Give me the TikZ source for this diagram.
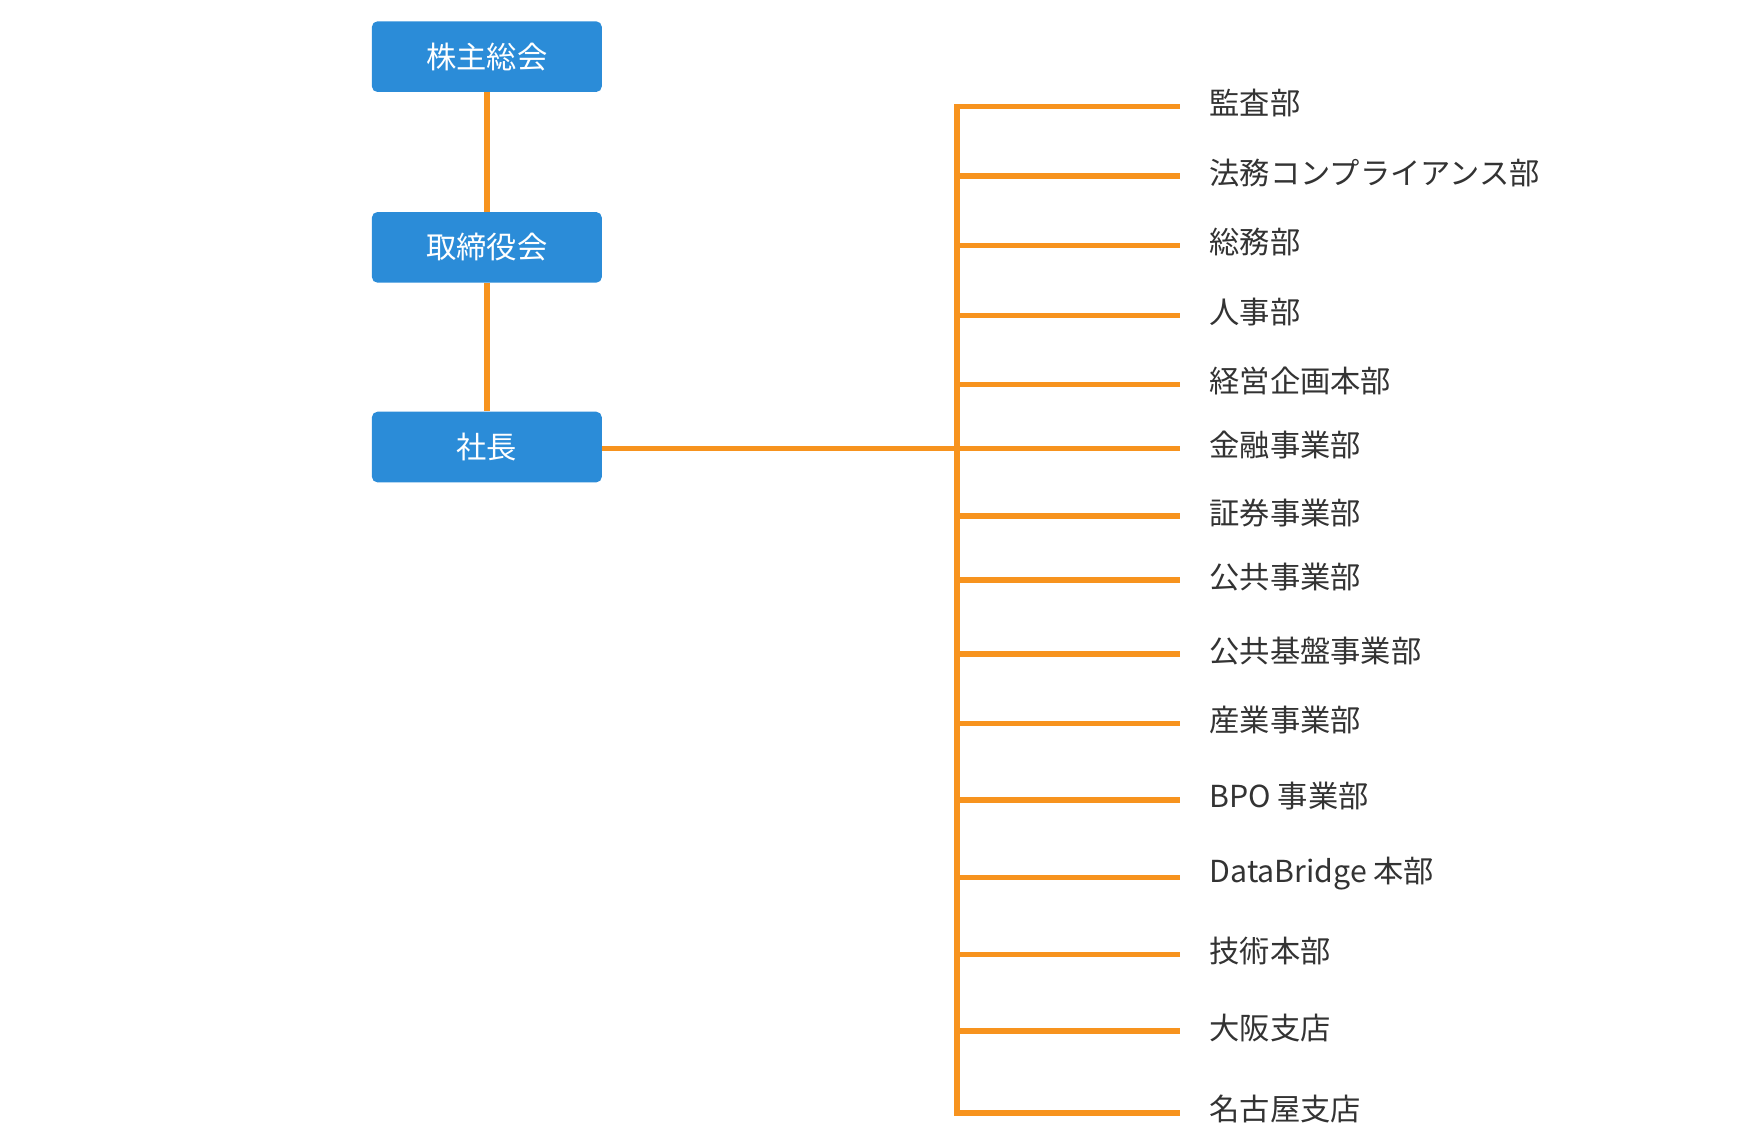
\documentclass[tikz,border=0pt]{standalone}
\usepackage{fontspec}
\setmainfont{Noto Sans CJK JP}
\definecolor{boxblue}{RGB}{43,140,216}
\definecolor{lineorange}{RGB}{247,147,30}
\definecolor{labelgray}{RGB}{51,51,51}
\tikzset{
  orgbox/.style={fill=boxblue, rounded corners=5pt, minimum width=205pt, minimum height=63pt,
    inner sep=0pt, text=white, font=\fontsize{27}{27}\selectfont},
  dept/.style={anchor=west, inner sep=0pt, text=labelgray, font=\fontsize{27}{27}\selectfont},
  orgline/.style={draw=lineorange, line width=4.8pt}
}
\begin{document}
\begin{tikzpicture}[x=1pt,y=-1pt]
\useasboundingbox (0,0) rectangle (1560,1021);

% boxes
\node[orgbox] (meeting) at (434,50.5) {株主総会};
\node[orgbox] (board) at (434,220.5) {取締役会};
\node[orgbox] (pres) at (434,398.5) {社長};

\draw[orgline] (meeting) -- (board);
\draw[orgline] (board) -- (pres);

% bus
\coordinate (bustop) at (853,95);
\coordinate (busbot) at (853,992);
\draw[orgline, line cap=rect] (bustop) -- (busbot);
\draw[orgline] (pres.east |- 0,400) -- (853,400);

% departments
\foreach \y/\txt [count=\i] in {95/監査部, 157/法務コンプライアンス部, 219/総務部, 281/人事部,
  343/経営企画本部, 400/金融事業部, 460/証券事業部, 517/公共事業部, 583/公共基盤事業部,
  645/産業事業部, 713/BPO 事業部, 782/DataBridge 本部, 851/技術本部, 919/大阪支店, 992/名古屋支店}{
  \coordinate (b\i) at (853,\y);
  \coordinate (e\i) at (1052,\y);
  \node[dept] (d\i) at (1078,\y-3) {\txt};
  \draw[orgline] (b\i) -- (e\i);
}
\end{tikzpicture}
\end{document}
